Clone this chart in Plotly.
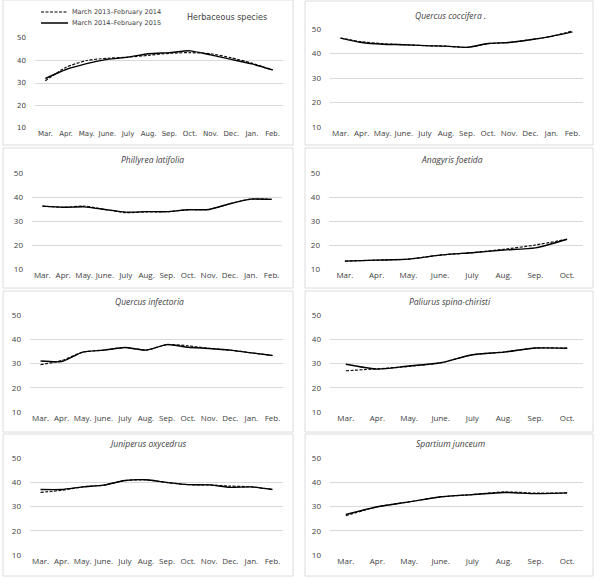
import plotly.graph_objects as go

months12 = ["Mar.", "Apr.", "May.", "June.", "July", "Aug.", "Sep.", "Oct.", "Nov.", "Dec.", "Jan.", "Feb."]
months8 = months12[:8]

series_names = ["March 2013\u2013February 2014", "March 2014\u2013February 2015"]

herb_2013 = [31.0, 37.0, 40.0, 41.0, 41.5, 42.3, 43.2, 43.5, 43.0, 41.2, 38.8, 35.8]
herb_2014 = [32.0, 36.0, 38.6, 40.5, 41.5, 43.0, 43.5, 44.3, 42.5, 40.5, 38.5, 35.8]

qcoc_2013 = [46.3, 44.8, 44.0, 43.6, 43.2, 43.0, 42.5, 44.0, 44.5, 45.6, 47.0, 49.2]
qcoc_2014 = [46.3, 44.5, 43.8, 43.6, 43.2, 43.0, 42.5, 44.1, 44.5, 45.6, 47.0, 48.8]

phil_2013 = [36.2, 35.7, 36.2, 34.8, 33.5, 33.8, 33.9, 34.7, 34.8, 37.2, 39.1, 39.0]
phil_2014 = [36.2, 35.7, 35.9, 34.8, 33.7, 33.9, 33.9, 34.7, 34.8, 37.2, 39.1, 39.0]

anag_2013 = [13.3, 13.7, 14.1, 15.8, 16.8, 18.2, 20.0, 22.4]
anag_2014 = [13.3, 13.7, 14.1, 15.8, 16.8, 17.9, 18.8, 22.4]

qinf_2013 = [29.5, 31.2, 34.7, 35.5, 36.6, 35.5, 37.8, 37.3, 36.2, 35.5, 34.4, 33.3]
qinf_2014 = [31.0, 30.8, 34.7, 35.5, 36.6, 35.5, 37.8, 36.7, 36.2, 35.5, 34.4, 33.3]

pali_2013 = [27.0, 27.8, 28.8, 30.3, 33.6, 34.7, 36.4, 36.3]
pali_2014 = [29.7, 27.7, 29.0, 30.3, 33.6, 34.7, 36.4, 36.3]

juni_2013 = [35.8, 36.7, 38.1, 38.8, 40.7, 41.0, 39.9, 39.0, 38.9, 38.4, 38.1, 37.0]
juni_2014 = [37.0, 37.0, 38.1, 38.8, 40.7, 41.0, 39.9, 39.0, 38.9, 37.9, 38.1, 37.0]

spar_2013 = [26.2, 29.9, 31.9, 34.0, 34.9, 36.0, 35.5, 35.6]
spar_2014 = [26.7, 29.9, 31.9, 34.0, 34.9, 35.8, 35.3, 35.6]

yticks = [10, 20, 30, 40, 50]

W, H = 600, 579

def fx(px):
    return px / W

def fy(py):
    return 1 - py / H

# panels: title, italic, months, dashed series, solid series, plot area (x0,x1,y_top,y_bottom), box, title pos
panels = [
    ("Herbaceous species", False, months12, herb_2013, herb_2014, (35, 283, 38, 128), (3, 293, 0, 145), (227, 17)),
    ("Quercus coccifera .", True, months12, qcoc_2013, qcoc_2014, (330, 583, 29, 127), (305, 593, 1, 145), (450, 16)),
    ("Phillyrea latifolia", True, months12, phil_2013, phil_2014, (32, 282, 173, 269), (3, 293, 148, 288), (152, 159)),
    ("Anagyris foetida", True, months8, anag_2013, anag_2014, (329, 583, 173, 269), (305, 593, 148, 288), (452, 159)),
    ("Quercus infectoria", True, months12, qinf_2013, qinf_2014, (30, 283, 315, 412), (3, 293, 291, 432), (149, 301)),
    ("Paliurus spina-chiristi", True, months8, pali_2013, pali_2014, (330, 583, 315, 412), (305, 593, 291, 432), (450, 301)),
    ("Juniperus oxycedrus", True, months12, juni_2013, juni_2014, (30, 283, 458, 555), (3, 293, 434, 576), (148, 444)),
    ("Spartium junceum", True, months8, spar_2013, spar_2014, (330, 583, 458, 555), (305, 593, 434, 576), (450, 444)),
]

dash_style = "3px,1.5px"

fig = go.Figure()
layout = dict(
    width=W, height=H,
    margin=dict(l=0, r=0, t=0, b=0, autoexpand=False),
    paper_bgcolor="white", plot_bgcolor="white",
    showlegend=False,
)
shapes = []
annotations = []

for i, (title, italic, cats, s13, s14, area, box, tpos) in enumerate(panels):
    n = i + 1
    xa = "x" if n == 1 else f"x{n}"
    ya = "y" if n == 1 else f"y{n}"
    fam = "DejaVu Sans" if i == 0 else "Open Sans"
    fsize = 7 if i == 0 else 8
    fig.add_trace(go.Scatter(x=cats, y=s13, mode="lines", name=series_names[0],
                             line=dict(color="#111111", width=1.2, dash=dash_style, shape="spline", smoothing=0.6),
                             xaxis=xa, yaxis=ya))
    fig.add_trace(go.Scatter(x=cats, y=s14, mode="lines", name=series_names[1],
                             line=dict(color="#000000", width=1.4, shape="spline", smoothing=0.6),
                             xaxis=xa, yaxis=ya))
    x0, x1, yt, yb = area
    layout["xaxis" if n == 1 else f"xaxis{n}"] = dict(
        domain=[fx(x0), fx(x1)], anchor=ya, type="category",
        range=[-0.5, len(cats) - 0.5], dtick=1, tickangle=0, automargin=False,
        showgrid=False, zeroline=False, showline=False, ticks="",
        tickfont=dict(family=fam, size=fsize, color="#404040"),
    )
    layout["yaxis" if n == 1 else f"yaxis{n}"] = dict(
        domain=[fy(yb), fy(yt)], anchor=xa, range=[10, 50], automargin=False,
        tickmode="array", tickvals=yticks, ticks="",
        showgrid=True, gridcolor="#d9d9d9", gridwidth=1,
        zeroline=False, showline=False, ticklabelstandoff=8,
        tickfont=dict(family=fam, size=fsize, color="#404040"),
    )
    bx0, bx1, by0, by1 = box
    shapes.append(dict(type="rect", xref="paper", yref="paper",
                       x0=fx(bx0), x1=fx(bx1), y0=fy(by1), y1=fy(by0),
                       line=dict(color="#dcdcdc", width=1), fillcolor="rgba(0,0,0,0)"))
    ttext = f"<i>{title}</i>" if italic else title
    annotations.append(dict(text=ttext, xref="paper", yref="paper",
                            x=fx(tpos[0]), y=fy(tpos[1]), xanchor="center", yanchor="middle",
                            showarrow=False,
                            font=dict(family=fam, size=8 if i == 0 else 8.5, color="#404040")))

# manual legend in the first panel
legend_rows = [(series_names[0], dash_style, 1.2, 12), (series_names[1], "solid", 1.5, 23)]
for name, dsh, wd, py in legend_rows:
    shapes.append(dict(type="line", xref="paper", yref="paper",
                       x0=fx(41), x1=fx(68), y0=fy(py), y1=fy(py),
                       line=dict(color="#000000", width=wd, dash=dsh)))
    annotations.append(dict(text=name, xref="paper", yref="paper",
                            x=fx(70), y=fy(py), xanchor="left", yanchor="middle",
                            showarrow=False,
                            font=dict(family="DejaVu Sans", size=6.5, color="#404040")))

layout["shapes"] = shapes
layout["annotations"] = annotations
fig.update_layout(**layout)
fig.write_html("out.html", config={"displayModeBar": False},
               post_script="document.body.style.margin='0';document.body.style.overflow='hidden';")
